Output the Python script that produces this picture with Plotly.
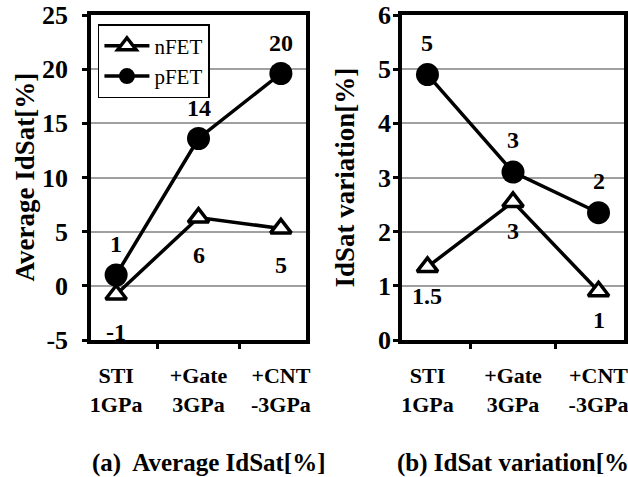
import plotly.graph_objects as go
from plotly.subplots import make_subplots

categories = ["STI<br>1GPa", "+Gate<br>3GPa", "+CNT<br>-3GPa"]

avg_nfet = [-0.8, 6.3, 5.3]
avg_pfet = [1.0, 13.6, 19.6]
avg_nfet_labels = ["-1", "6", "5"]
avg_pfet_labels = ["1", "14", "20"]

var_nfet = [1.35, 2.55, 0.9]
var_pfet = [4.9, 3.1, 2.35]
var_nfet_labels = ["1.5", "3", "1"]
var_pfet_labels = ["5", "3", "2"]

avg_ticks = [-5, 0, 5, 10, 15, 20, 25]
avg_ticktext = ["-5", "0", "5", "10", "15", "20", "25"]
var_ticks = [0, 1, 2, 3, 4, 5, 6]
var_ticktext = ["0", "1", "2", "3", "4", "5", "6"]

FONT = "Liberation Serif, Times New Roman, Times, serif"

fig = make_subplots(rows=1, cols=2)

def add_pair(nfet, pfet, col, showlegend):
    fig.add_trace(go.Scatter(
        x=categories, y=nfet, name="nFET", mode="lines+markers",
        line=dict(color="black", width=3.5),
        marker=dict(symbol="triangle-up", size=18, color="white",
                    line=dict(color="black", width=3.5)),
        showlegend=showlegend, cliponaxis=False), row=1, col=col)
    fig.add_trace(go.Scatter(
        x=categories, y=pfet, name="pFET", mode="lines+markers",
        line=dict(color="black", width=3.5),
        marker=dict(symbol="circle", size=23, color="black"),
        showlegend=showlegend, cliponaxis=False), row=1, col=col)

add_pair(avg_nfet, avg_pfet, 1, True)
add_pair(var_nfet, var_pfet, 2, False)

lab_font = dict(family=FONT, size=24, color="black", weight="bold")

def add_labels(vals, labels, xref, yref, shift):
    for c, v, t in zip(categories, vals, labels):
        fig.add_annotation(x=c, y=v, xref=xref, yref=yref, text=t,
                           showarrow=False, yshift=shift, font=lab_font)

add_labels(avg_pfet, avg_pfet_labels, "x", "y", 31)
add_labels(avg_nfet, avg_nfet_labels, "x", "y", -37)
add_labels(var_pfet, var_pfet_labels, "x2", "y2", 32)
add_labels(var_nfet, var_nfet_labels, "x2", "y2", -29)

axis_common = dict(showline=True, linecolor="black", linewidth=3.5, mirror=True,
                   ticks="outside", ticklen=5, tickwidth=3, tickcolor="black",
                   automargin=False)
tick_font = dict(family=FONT, size=26, color="black", weight="bold")
xtick_font = dict(family=FONT, size=22, color="black", weight="bold")

fig.update_xaxes(type="category", tickson="boundaries", showgrid=False,
                 tickfont=xtick_font, ticklabelstandoff=13, **axis_common)
fig.update_xaxes(domain=[0, 0.4034], row=1, col=1)
fig.update_xaxes(domain=[0.5835, 1.0], row=1, col=2)

fig.update_yaxes(showgrid=True, gridcolor="#a0a0a0", gridwidth=1.5, zeroline=False,
                 tickfont=tick_font, ticklabeloverflow="allow", tickmode="array",
                 **axis_common)
fig.update_yaxes(range=[-5, 25], tickvals=avg_ticks, ticktext=avg_ticktext,
                 ticklabelstandoff=9, row=1, col=1)
fig.update_yaxes(range=[0, 6], tickvals=var_ticks, ticktext=var_ticktext,
                 ticklabelstandoff=-3, row=1, col=2)

title_font = dict(family=FONT, size=27, color="black", weight="bold")
fig.add_annotation(text="Average IdSat[%]", xref="paper", yref="paper",
                   x=-0.1257, y=0.5, xanchor="center", yanchor="middle",
                   textangle=-90, showarrow=False, font=title_font)
fig.add_annotation(text="IdSat variation[%]", xref="paper", yref="paper",
                   x=0.4765, y=0.5, xanchor="center", yanchor="middle",
                   textangle=-90, showarrow=False, font=title_font)

cap_font = dict(family=FONT, size=25, color="black", weight="bold")
fig.add_annotation(text="(a)\u00a0 Average IdSat[%]", xref="paper", yref="paper",
                   x=-0.002, y=-0.378, xanchor="left", yanchor="middle",
                   showarrow=False, font=cap_font)
fig.add_annotation(text="(b) IdSat variation[%]", xref="paper", yref="paper",
                   x=0.570, y=-0.378, xanchor="left", yanchor="middle",
                   showarrow=False, font=cap_font)

fig.update_layout(
    width=628, height=477,
    margin=dict(l=91, r=4, t=15, b=137, autoexpand=False),
    paper_bgcolor="white", plot_bgcolor="white",
    showlegend=True,
    legend=dict(x=0.013, y=0.972, xanchor="left", yanchor="top",
                bgcolor="white", bordercolor="black", borderwidth=1.5,
                font=dict(family=FONT, size=21, color="black"),
                tracegroupgap=0, itemwidth=45),
)

fig.write_html("out.html",
               config={"displayModeBar": False},
               post_script="document.body.style.margin='0px';"
                           "document.body.style.overflow='hidden';")
